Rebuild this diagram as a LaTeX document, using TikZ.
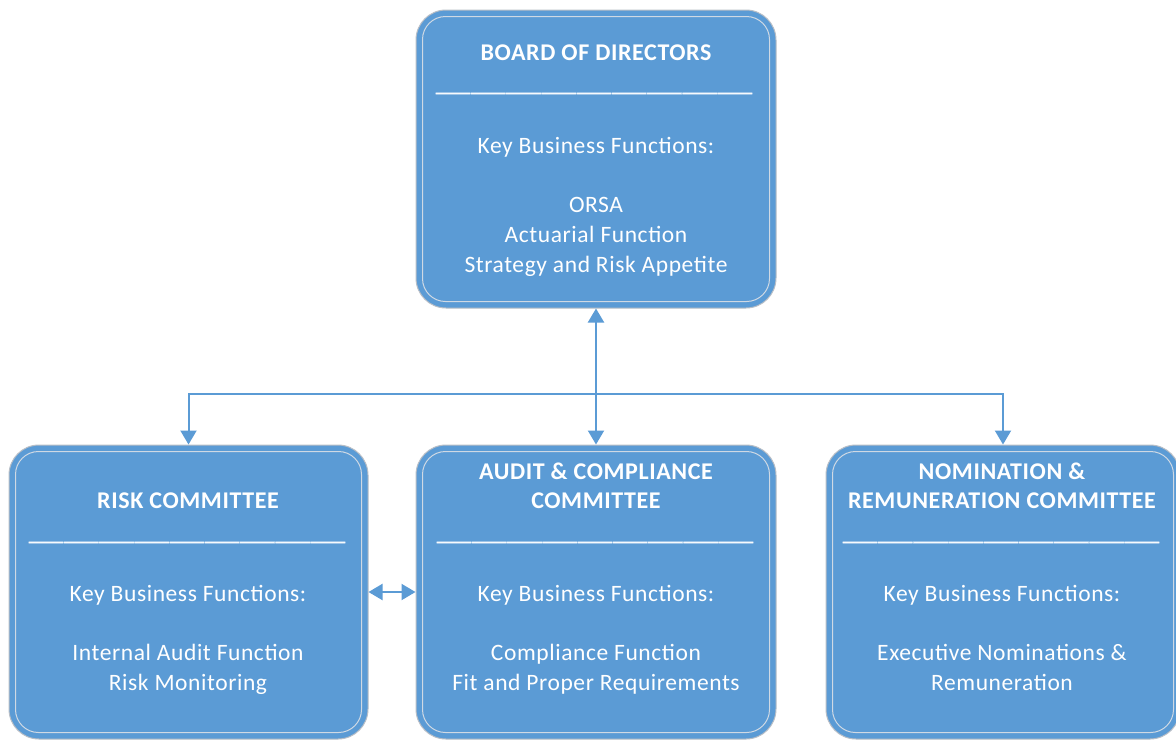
\documentclass[tikz,border=0pt]{standalone}
\usepackage{fontspec}
\setmainfont{Carlito}[LetterSpace=2.5]
\newfontfamily\sepfont{Carlito}[FakeStretch=2.95,LetterSpace=3,FakeBold=1.2]
\usetikzlibrary{arrows.meta}
\definecolor{boxblue}{HTML}{5B9BD5}
\definecolor{rimgray}{HTML}{B8BEC6}
\definecolor{innerline}{HTML}{CFD9E4}
\tikzset{
  panel/.style={draw=rimgray, line width=1pt, fill=boxblue, rounded corners=30pt, inner sep=0pt},
  innerrim/.style={draw=innerline, line width=1pt, rounded corners=23pt},
  ttl/.style={text=white, font=\fontsize{24}{28.5}\selectfont\bfseries, align=center, inner sep=0pt, anchor=base},
  body/.style={text=white, font=\fontsize{23.5}{30}\selectfont, align=center, inner sep=0pt, anchor=base},
  sep/.style={text=white!95!boxblue, font=\sepfont\fontsize{23.5}{30}\selectfont, inner sep=0pt, anchor=base},
  conn/.style={draw=boxblue, line width=2pt, arrows={-Triangle[width=16pt,length=14pt]}},
  conn2/.style={draw=boxblue, line width=2pt, arrows={Triangle[width=16pt,length=14pt]-Triangle[width=16pt,length=14pt]}}
}
\begin{document}
\begin{tikzpicture}[x=1pt,y=-1pt]
\useasboundingbox (0,0) rectangle (1176,740);
\clip (0,0) rectangle (1176,740);
\fill[white] (0,0) rectangle (1176,740);
% panels
\node[panel, minimum width=360pt, minimum height=298pt] (top) at (596,159) {};
\node[panel, minimum width=359pt, minimum height=294pt] (left) at (188.5,592) {};
\node[panel, minimum width=360pt, minimum height=294pt] (mid) at (596,592) {};
\node[panel, minimum width=354pt, minimum height=294pt] (right) at (1003,592) {};
\foreach \b in {top,left,mid,right}
  \draw[innerrim] ([shift={(7,7)}]\b.north west) rectangle ([shift={(-7,-7)}]\b.south east);
% top texts (base anchor = last line's baseline)
\node[ttl] (topT) at (596,60) {BOARD OF DIRECTORS};
\node[sep] (topS) at (594,91) {\_\_\_\_\_\_\_\_\_};
\node[body] (topK) at (596,153) {Key Business Functions:};
\node[body] (topL) at (596,272) {ORSA\\Actuarial Function\\Strategy and Risk Appetite};
% left texts
\node[ttl] (leftT) at (188,508) {RISK COMMITTEE};
\node[sep] (leftS) at (187,540) {\_\_\_\_\_\_\_\_\_};
\node[body] (leftK) at (188,601) {Key Business Functions:};
\node[body] (leftL) at (188,690) {Internal Audit Function\\Risk Monitoring};
% mid texts
\node[ttl] (midT) at (596,508) {AUDIT \& COMPLIANCE\\COMMITTEE};
\node[sep] (midS) at (595,540) {\_\_\_\_\_\_\_\_\_};
\node[body] (midK) at (596,601) {Key Business Functions:};
\node[body] (midL) at (596,690) {Compliance Function\\Fit and Proper Requirements};
% right texts
\node[ttl] (rightT) at (1002,508) {NOMINATION \&\\REMUNERATION COMMITTEE};
\node[sep] (rightS) at (1001,540) {\_\_\_\_\_\_\_\_\_};
\node[body] (rightK) at (1002,601) {Key Business Functions:};
\node[body] (rightL) at (1002,690) {Executive Nominations \&\\Remuneration};
% connectors
\coordinate (hub) at (596,394);
\draw[conn2] (top.south) -- (mid.north);
\draw[conn] (hub) -| (left.north);
\draw[conn] (hub) -| (right.north);
\draw[conn2] (left.east) -- (mid.west);
\end{tikzpicture}
\end{document}
